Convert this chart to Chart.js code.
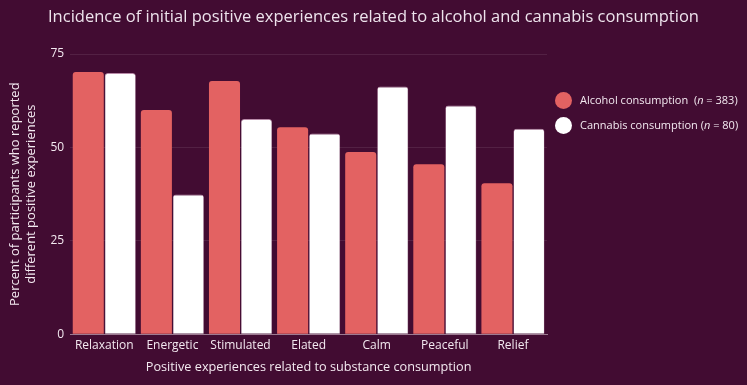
<!DOCTYPE html>
<html>
<head>
<meta charset="utf-8">
<script src="https://cdn.jsdelivr.net/npm/chart.js@4"></script>
<style>
  html, body { margin: 0; padding: 0; background: #420c32; }
  #wrap { position: relative; width: 747px; height: 385px; }
  #title { position: absolute; left: 0; top: 5px; width: 747px; text-align: center; font-family: "Open Sans", sans-serif; font-size: 16.5px; line-height: 22px; color: #ede3ec; white-space: nowrap; }
  #legend { position: absolute; left: 555px; top: 87px; font-family: "Open Sans", sans-serif; font-size: 11px; color: #f3e9f0; }
  #legend .row { height: 25px; line-height: 25px; white-space: nowrap; }
  #legend .dot { display: inline-block; width: 17px; height: 17px; border-radius: 50%; margin-right: 8px; vertical-align: middle; position: relative; top: -1px; }
</style>
</head>
<body>
<div id="wrap">
  <canvas id="chart" width="747" height="385"></canvas>
  <div id="title">Incidence of initial positive experiences related to alcohol and cannabis consumption</div>
  <div id="legend">
    <div class="row"><span class="dot" style="background:#e36262"></span>Alcohol consumption&nbsp;&nbsp;(<i>n</i>&nbsp;= 383)</div>
    <div class="row"><span class="dot" style="background:#ffffff"></span>Cannabis consumption (<i>n</i>&nbsp;= 80)</div>
  </div>
</div>
<script>
var categories = ["Relaxation", "Energetic", "Stimulated", "Elated", "Calm", "Peaceful", "Relief"];
var alcohol = [70.2, 60.0, 67.8, 55.4, 48.8, 45.5, 40.4];
var cannabis = [69.9, 37.4, 57.6, 53.7, 66.3, 61.2, 55.0];
var yTicks = [0, 25, 50, 75];

var textColor = "#f3e9f0";
var font = "'Open Sans', sans-serif";

var ctx = document.getElementById("chart");

var data = {
	labels: categories,
	datasets: [
		{
			label: "Alcohol consumption (n = 383)",
			data: alcohol,
			backgroundColor: "#e36262",
			borderRadius: { topLeft: 3, topRight: 3 },
			borderSkipped: "bottom",
			categoryPercentage: 0.94,
			barPercentage: 0.97
		},
		{
			label: "Cannabis consumption (n = 80)",
			data: cannabis,
			backgroundColor: "#ffffff",
			borderColor: "#b88aa8",
			borderWidth: { top: 1, left: 0.5, right: 0.5, bottom: 0 },
			borderRadius: { topLeft: 3, topRight: 3 },
			borderSkipped: "bottom",
			categoryPercentage: 0.94,
			barPercentage: 0.97
		}
	]
};

var options = {
	responsive: false,
	animation: false,
	layout: { padding: { left: 3, right: 200, top: 54, bottom: 6 } },
	plugins: {
		legend: { display: false },
		tooltip: { enabled: false }
	},
	scales: {
		x: {
			grid: { display: false, drawTicks: false },
			border: { color: "#9d7a91", width: 1 },
			ticks: { color: textColor, font: { family: font, size: 12 }, padding: 4 },
			title: {
				display: true,
				text: "Positive experiences related to substance consumption",
				color: textColor,
				font: { family: font, size: 12.7 },
				padding: { top: 3 }
			}
		},
		y: {
			min: 0,
			max: 75,
			afterBuildTicks: function(axis) {
				axis.ticks = yTicks.map(function(v) { return { value: v }; });
			},
			grid: { color: "rgba(255,255,255,0.09)", drawTicks: false },
			border: { display: false },
			ticks: { color: textColor, font: { family: font, size: 12 }, padding: 6 },
			title: {
				display: true,
				text: ["Percent of participants who reported", "different positive experiences"],
				color: textColor,
				font: { family: font, size: 13, lineHeight: 1.25 },
				padding: { top: 4, bottom: 5 }
			}
		}
	}
};

var chart = new Chart(ctx, {
	type: "bar",
	data: data,
	options: options
});
</script>
</body>
</html>
